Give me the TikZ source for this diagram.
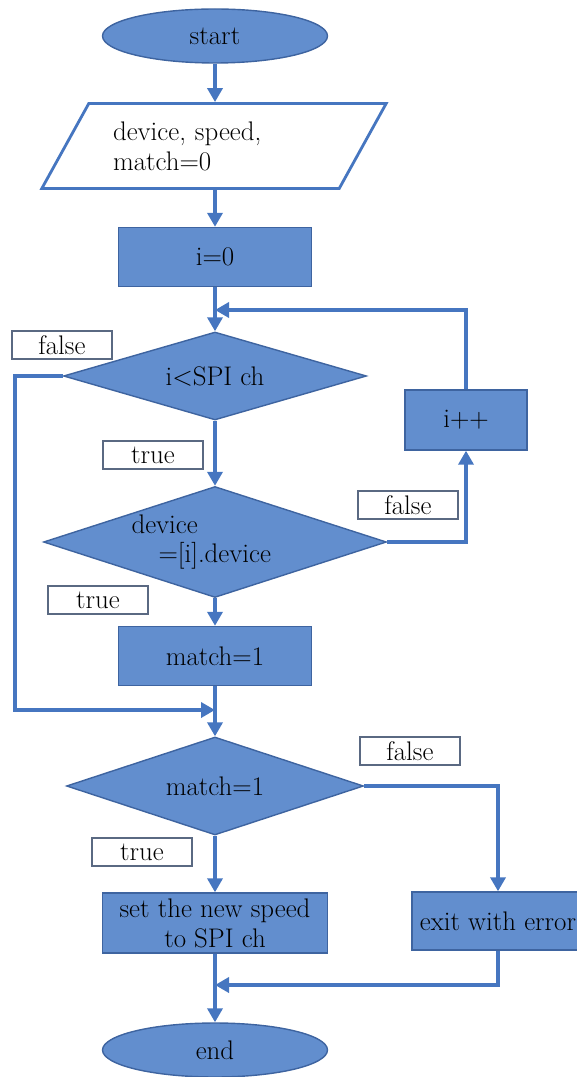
\documentclass[tikz,border=0pt]{standalone}
\usetikzlibrary{shapes.geometric,arrows.meta}
\definecolor{boxfill}{RGB}{98,142,206}
\definecolor{boxline}{RGB}{62,100,160}
\definecolor{flowline}{RGB}{70,118,192}
\definecolor{tagline}{RGB}{90,105,130}
\begin{document}
\begin{tikzpicture}[x=0.02cm,y=-0.02cm,
    every node/.style={font=\fontsize{15.3}{17}\selectfont,inner sep=2pt},
    terminal/.style={ellipse,draw=boxline,fill=boxfill,line width=0.8pt,minimum width=4.5cm,minimum height=1.08cm},
    process/.style={rectangle,draw=boxline,fill=boxfill,line width=0.8pt,minimum height=1.18cm},
    decision/.style={diamond,draw=boxline,fill=boxfill,line width=0.8pt,inner sep=0pt},
    io/.style={trapezium,trapezium left angle=55,trapezium right angle=125,trapezium stretches=true,draw=flowline,line width=1.6pt,fill=white},
    tag/.style={rectangle,draw=tagline,fill=white,line width=0.7pt,minimum width=2cm,minimum height=0.56cm},
    flow/.style={draw=flowline,line width=2.2pt,-{Triangle[width=0.3cm,length=0.28cm]}}]
      \useasboundingbox (0,0) rectangle (577,1077);
      \draw
        (215,36) node[terminal] (start){start}
        (214,146) node[io,minimum width=6.9cm,minimum height=1.7cm,text width=4.04cm,align=left] (param){device, speed,\\match=0}
        (215,257) node[process,minimum width=3.86cm] (init){i=0}
        (215,376) node[decision,minimum width=6.06cm,minimum height=1.76cm,shape aspect=3.4] (loop){i\textless SPI ch}
        (466,420) node[process,minimum width=2.44cm,minimum height=1.2cm] (inc){i++}
        (215,542) node[decision,minimum width=6.86cm,minimum height=2.22cm,shape aspect=3.1,text width=3.34cm,align=left] (cmp){device\\\hspace*{0.54cm}=[i].device}
        (215,656) node[process,minimum width=3.86cm] (hit){match=1}
        (215,786) node[decision,minimum width=5.94cm,minimum height=1.96cm,shape aspect=3] (found){match=1}
        (215,923) node[process,minimum width=4.5cm,minimum height=1.2cm,align=center] (set){set the new speed\\to SPI ch}
        (498,921) node[process,minimum width=3.44cm,minimum height=1.16cm] (fail){exit with error}
        (215,1050) node[terminal] (stop){end};
      \draw
        (62,345) node[tag] (f1){false}
        (153,455) node[tag] (t1){true}
        (408,505) node[tag] (f2){false}
        (98,600) node[tag] (t2){true}
        (410,751) node[tag] (f3){false}
        (142,852) node[tag] (t3){true};
      \coordinate (back) at (215,310);
      \coordinate (skip) at (15,710);
      \coordinate (merge) at (215,710);
      \coordinate (join) at (215,985);
      \begin{scope}[flow]
        \draw (start) to (start |- param.north);
        \draw (init |- param.south) to (init);
        \draw (init) to (loop);
        \draw (inc.north) |- (back);
        \draw (loop) to (cmp);
        \draw (loop.west) -| (skip) -- (merge);
        \draw (cmp.east) -| (inc);
        \draw (cmp) to (hit);
        \draw (hit) to (found);
        \draw (found.east) -| (fail);
        \draw (found) to (set);
        \draw (set) to (stop);
        \draw (fail.south) |- (join);
      \end{scope}
    \end{tikzpicture}
\end{document}
